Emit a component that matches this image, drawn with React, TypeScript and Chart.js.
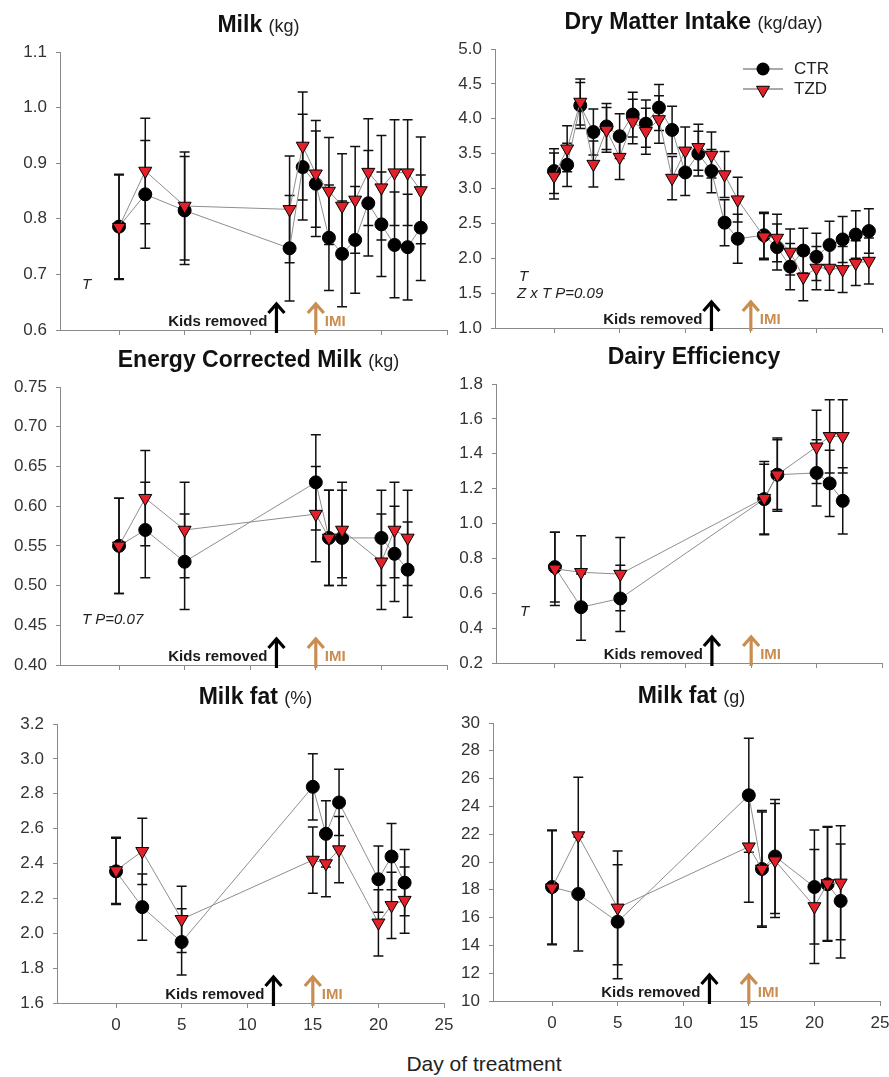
import React, { useEffect, useRef } from "react";
import { Chart, registerables } from "chart.js";
Chart.register(...registerables);

const FONT = '"Liberation Sans", Arial, Helvetica, sans-serif';

// ---------- shared axis ticks ----------
const xTicks = [0, 5, 10, 15, 20, 25];
const kidsRemovedDay = 12;
const imiDay = 15;

// ---------- Milk (kg) ----------
const milkDays = [0, 2, 5, 13, 14, 15, 16, 17, 18, 19, 20, 21, 22, 23];
const milkCTR = [0.786, 0.844, 0.815, 0.747, 0.893, 0.863, 0.766, 0.737, 0.762, 0.828, 0.790, 0.753, 0.749, 0.784];
const milkCTRse = [0.094, 0.097, 0.097, 0.095, 0.095, 0.095, 0.095, 0.095, 0.096, 0.095, 0.094, 0.095, 0.095, 0.095];
const milkTZD = [0.785, 0.886, 0.823, 0.817, 0.931, 0.881, 0.850, 0.823, 0.834, 0.884, 0.856, 0.883, 0.883, 0.851];
const milkTZDse = [0.094, 0.095, 0.097, 0.096, 0.097, 0.096, 0.096, 0.094, 0.096, 0.096, 0.094, 0.095, 0.095, 0.096];
const milkYTicks = [0.6, 0.7, 0.8, 0.9, 1.0, 1.1];

// ---------- Dry Matter Intake (kg/day) ----------
const dmiDays = [0, 1, 2, 3, 4, 5, 6, 7, 8, 9, 10, 11, 12, 13, 14, 16, 17, 18, 19, 20, 21, 22, 23, 24];
const dmiCTR = [3.25, 3.34, 4.19, 3.81, 3.89, 3.75, 4.06, 3.93, 4.16, 3.84, 3.23, 3.50, 3.25, 2.51, 2.28, 2.33, 2.16, 1.88, 2.11, 2.02, 2.19, 2.27, 2.34, 2.39];
const dmiCTRse = [0.32, 0.31, 0.33, 0.33, 0.33, 0.32, 0.32, 0.34, 0.33, 0.34, 0.33, 0.32, 0.31, 0.33, 0.35, 0.33, 0.33, 0.33, 0.32, 0.34, 0.34, 0.33, 0.34, 0.32];
const dmiTZD = [3.18, 3.57, 4.24, 3.35, 3.84, 3.45, 3.96, 3.82, 3.99, 3.15, 3.54, 3.59, 3.48, 3.20, 2.84, 2.31, 2.29, 2.09, 1.73, 1.86, 1.86, 1.84, 1.93, 1.96];
const dmiTZDse = [0.33, 0.33, 0.33, 0.33, 0.32, 0.32, 0.32, 0.33, 0.34, 0.31, 0.34, 0.33, 0.33, 0.33, 0.32, 0.33, 0.34, 0.33, 0.34, 0.31, 0.32, 0.33, 0.32, 0.33];
const dmiYTicks = [1.0, 1.5, 2.0, 2.5, 3.0, 3.5, 4.0, 4.5, 5.0];

// ---------- Energy Corrected Milk (kg) ----------
const ecmDays = [0, 2, 5, 15, 16, 17, 20, 21, 22];
const ecmCTR = [0.55, 0.57, 0.53, 0.63, 0.56, 0.56, 0.56, 0.54, 0.52];
const ecmCTRse = [0.06, 0.06, 0.06, 0.06, 0.06, 0.06, 0.06, 0.06, 0.06];
const ecmTZD = [0.55, 0.61, 0.57, 0.59, 0.56, 0.57, 0.53, 0.57, 0.56];
const ecmTZDse = [0.06, 0.06, 0.06, 0.06, 0.06, 0.06, 0.06, 0.06, 0.06];
const ecmYTicks = [0.40, 0.45, 0.50, 0.55, 0.60, 0.65, 0.70, 0.75];

// ---------- Dairy Efficiency ----------
const deDays = [0, 2, 5, 16, 17, 20, 21, 22];
const deCTR = [0.75, 0.52, 0.57, 1.14, 1.28, 1.29, 1.23, 1.13];
const deCTRse = [0.20, 0.19, 0.19, 0.20, 0.20, 0.19, 0.19, 0.19];
const deTZD = [0.74, 0.72, 0.71, 1.145, 1.28, 1.44, 1.50, 1.50];
const deTZDse = [0.21, 0.21, 0.21, 0.21, 0.21, 0.21, 0.21, 0.21];
const deYTicks = [0.2, 0.4, 0.6, 0.8, 1.0, 1.2, 1.4, 1.6, 1.8];

// ---------- Milk fat (%) ----------
const fatPctDays = [0, 2, 5, 15, 16, 17, 20, 21, 22];
const fatPctCTR = [2.355, 2.15, 1.95, 2.84, 2.57, 2.75, 2.31, 2.44, 2.29];
const fatPctCTRse = [0.19, 0.19, 0.19, 0.19, 0.19, 0.19, 0.19, 0.19, 0.19];
const fatPctTZD = [2.36, 2.47, 2.08, 2.42, 2.40, 2.48, 2.06, 2.16, 2.19];
const fatPctTZDse = [0.19, 0.19, 0.19, 0.19, 0.19, 0.19, 0.19, 0.19, 0.19];
const fatPctYTicks = [1.6, 1.8, 2.0, 2.2, 2.4, 2.6, 2.8, 3.0, 3.2];

// ---------- Milk fat (g) ----------
const fatGDays = [0, 2, 5, 15, 16, 17, 20, 21, 22];
const fatGCTR = [18.2, 17.7, 15.7, 24.8, 19.5, 20.4, 18.2, 18.4, 17.2];
const fatGCTRse = [4.1, 4.1, 4.1, 4.1, 4.2, 4.1, 4.1, 4.1, 4.1];
const fatGTZD = [18.15, 21.9, 16.7, 21.1, 19.5, 20.1, 16.8, 18.45, 18.5];
const fatGTZDse = [4.1, 4.2, 4.1, 4.0, 4.1, 4.1, 4.1, 4.1, 4.1];
const fatGYTicks = [10, 12, 14, 16, 18, 20, 22, 24, 26, 28, 30];

type Note = { text: string; dx: number; dyFromBottom: number };
type Panel = {
  key: string;
  title: string;
  unit: string;
  left: number;
  top: number;
  right: number;
  bottom: number;
  yTicks: number[];
  dec: number;
  showXLabels: boolean;
  days: number[];
  ctr: number[];
  ctrSe: number[];
  tzd: number[];
  tzdSe: number[];
  notes: Note[];
  legend?: boolean;
};

const panels: Panel[] = [
  {
    key: "milk", title: "Milk", unit: "(kg)",
    left: 60, top: 52, right: 447, bottom: 330,
    yTicks: milkYTicks, dec: 1, showXLabels: false,
    days: milkDays, ctr: milkCTR, ctrSe: milkCTRse, tzd: milkTZD, tzdSe: milkTZDse,
    notes: [{ text: "T", dx: 22, dyFromBottom: 41 }],
  },
  {
    key: "dmi", title: "Dry Matter Intake", unit: "(kg/day)",
    left: 495, top: 49, right: 882, bottom: 328,
    yTicks: dmiYTicks, dec: 1, showXLabels: false,
    days: dmiDays, ctr: dmiCTR, ctrSe: dmiCTRse, tzd: dmiTZD, tzdSe: dmiTZDse,
    notes: [
      { text: "T", dx: 24, dyFromBottom: 47 },
      { text: "Z x T P=0.09", dx: 22, dyFromBottom: 30 },
    ],
    legend: true,
  },
  {
    key: "ecm", title: "Energy Corrected Milk", unit: "(kg)",
    left: 60, top: 387, right: 447, bottom: 665,
    yTicks: ecmYTicks, dec: 2, showXLabels: false,
    days: ecmDays, ctr: ecmCTR, ctrSe: ecmCTRse, tzd: ecmTZD, tzdSe: ecmTZDse,
    notes: [{ text: "T P=0.07", dx: 22, dyFromBottom: 41 }],
  },
  {
    key: "de", title: "Dairy Efficiency", unit: "",
    left: 496, top: 384, right: 882, bottom: 663,
    yTicks: deYTicks, dec: 1, showXLabels: false,
    days: deDays, ctr: deCTR, ctrSe: deCTRse, tzd: deTZD, tzdSe: deTZDse,
    notes: [{ text: "T", dx: 24, dyFromBottom: 47 }],
  },
  {
    key: "fatpct", title: "Milk fat", unit: "(%)",
    left: 57, top: 724, right: 444, bottom: 1003,
    yTicks: fatPctYTicks, dec: 1, showXLabels: true,
    days: fatPctDays, ctr: fatPctCTR, ctrSe: fatPctCTRse, tzd: fatPctTZD, tzdSe: fatPctTZDse,
    notes: [],
  },
  {
    key: "fatg", title: "Milk fat", unit: "(g)",
    left: 493, top: 723, right: 880, bottom: 1001,
    yTicks: fatGYTicks, dec: 0, showXLabels: true,
    days: fatGDays, ctr: fatGCTR, ctrSe: fatGCTRse, tzd: fatGTZD, tzdSe: fatGTZDse,
    notes: [],
  },
];

const RED = "#e4202a";
const LINE_GRAY = "#8e8e8e";
const AXIS_GRAY = "#8a8a8a";
const IMI_COLOR = "#c98d4f";

function drawArrow(ctx: CanvasRenderingContext2D, x: number, yBase: number, color: string) {
  ctx.save();
  ctx.strokeStyle = color;
  ctx.lineWidth = 3.2;
  ctx.lineCap = "butt";
  ctx.lineJoin = "miter";
  ctx.beginPath();
  ctx.moveTo(x, yBase + 3);
  ctx.lineTo(x, yBase - 25);
  ctx.stroke();
  ctx.beginPath();
  ctx.moveTo(x - 8, yBase - 17);
  ctx.lineTo(x, yBase - 26);
  ctx.lineTo(x + 8, yBase - 17);
  ctx.stroke();
  ctx.restore();
}

function makePlugin(p: Panel) {
  return {
    id: "panelDeco_" + p.key,
    beforeDatasetsDraw(chart: any) {
      const ctx: CanvasRenderingContext2D = chart.ctx;
      const xs = chart.scales.x;
      const ys = chart.scales.y;
      ctx.save();
      ctx.strokeStyle = "#111";
      ctx.lineWidth = 1.5;
      const series: [number[], number[]][] = [
        [p.ctr, p.ctrSe],
        [p.tzd, p.tzdSe],
      ];
      for (const [vals, ses] of series) {
        p.days.forEach((d, i) => {
          const x = xs.getPixelForValue(d);
          const y1 = ys.getPixelForValue(vals[i] + ses[i]);
          const y2 = ys.getPixelForValue(vals[i] - ses[i]);
          ctx.beginPath();
          ctx.moveTo(x, y1);
          ctx.lineTo(x, y2);
          ctx.moveTo(x - 5, y1);
          ctx.lineTo(x + 5, y1);
          ctx.moveTo(x - 5, y2);
          ctx.lineTo(x + 5, y2);
          ctx.stroke();
        });
      }
      ctx.restore();
    },
    afterDatasetsDraw(chart: any) {
      const ctx: CanvasRenderingContext2D = chart.ctx;
      const area = chart.chartArea;
      const xs = chart.scales.x;
      ctx.save();

      // title
      const cx = (area.left + area.right) / 2 + 5;
      const ty = area.top - 20;
      ctx.textBaseline = "alphabetic";
      ctx.fillStyle = "#111";
      const boldFont = `bold 23px ${FONT}`;
      const unitFont = `18px ${FONT}`;
      ctx.font = boldFont;
      const tw = ctx.measureText(p.title).width;
      const sw = p.unit ? ctx.measureText(" ").width : 0;
      ctx.font = unitFont;
      const uw = p.unit ? ctx.measureText(p.unit).width : 0;
      const total = tw + sw + uw;
      const x0 = cx - total / 2;
      ctx.textAlign = "left";
      ctx.font = boldFont;
      ctx.fillText(p.title, x0, ty);
      if (p.unit) {
        ctx.font = unitFont;
        ctx.fillStyle = "#222";
        ctx.fillText(p.unit, x0 + tw + sw, ty);
      }

      // notes (italic)
      ctx.font = `italic 15px ${FONT}`;
      ctx.fillStyle = "#222";
      ctx.textAlign = "left";
      for (const n of p.notes) {
        ctx.fillText(n.text, area.left + n.dx, area.bottom - n.dyFromBottom);
      }

      // arrows and labels
      const kx = xs.getPixelForValue(kidsRemovedDay);
      const ix = xs.getPixelForValue(imiDay);
      drawArrow(ctx, kx, area.bottom, "#000");
      drawArrow(ctx, ix, area.bottom, IMI_COLOR);
      ctx.font = `bold 15px ${FONT}`;
      ctx.fillStyle = "#1a1a1a";
      ctx.textAlign = "right";
      ctx.fillText("Kids removed", kx - 9, area.bottom - 4);
      ctx.fillStyle = IMI_COLOR;
      ctx.textAlign = "left";
      ctx.fillText("IMI", ix + 9, area.bottom - 4);

      // legend
      if (p.legend) {
        const lx1 = area.right - 139;
        const lx2 = area.right - 99;
        const mx = (lx1 + lx2) / 2;
        const yA = area.top + 20;
        const yB = area.top + 40;
        ctx.strokeStyle = "#555";
        ctx.lineWidth = 1;
        ctx.beginPath();
        ctx.moveTo(lx1, yA);
        ctx.lineTo(lx2, yA);
        ctx.moveTo(lx1, yB);
        ctx.lineTo(lx2, yB);
        ctx.stroke();
        ctx.fillStyle = "#000";
        ctx.beginPath();
        ctx.arc(mx, yA, 6.5, 0, Math.PI * 2);
        ctx.fill();
        const r = 7.5;
        const cyT = yB + 1;
        ctx.beginPath();
        ctx.moveTo(mx, cyT + r);
        ctx.lineTo(mx - r * Math.sin(Math.PI / 3), cyT - r / 2);
        ctx.lineTo(mx + r * Math.sin(Math.PI / 3), cyT - r / 2);
        ctx.closePath();
        ctx.fillStyle = RED;
        ctx.fill();
        ctx.strokeStyle = "#000";
        ctx.stroke();
        ctx.font = `17px ${FONT}`;
        ctx.fillStyle = "#222";
        ctx.textAlign = "left";
        ctx.textBaseline = "middle";
        ctx.fillText("CTR", area.right - 88, yA);
        ctx.fillText("TZD", area.right - 88, yB);
      }
      ctx.restore();
    },
  };
}

function PanelChart({ p }: { p: Panel }) {
  const ref = useRef<HTMLCanvasElement>(null);
  const cx = p.left - 57;
  const cy = p.top - 52;
  const bottomSpace = p.showXLabels ? 45 : 12;
  const w = p.right + 15 - cx;
  const h = p.bottom + bottomSpace - cy;

  useEffect(() => {
    const canvas = ref.current;
    if (!canvas) return;
    const chart = new Chart(canvas, {
      type: "line",
      data: {
        datasets: [
          {
            label: "CTR",
            data: p.days.map((d, i) => ({ x: d, y: p.ctr[i] })),
            borderColor: LINE_GRAY,
            borderWidth: 1,
            fill: false,
            tension: 0,
            pointStyle: "circle",
            pointRadius: 6.5,
            pointBackgroundColor: "#000",
            pointBorderColor: "#000",
            pointBorderWidth: 1,
            order: 2,
          },
          {
            label: "TZD",
            data: p.days.map((d, i) => ({ x: d, y: p.tzd[i] })),
            borderColor: LINE_GRAY,
            borderWidth: 1,
            fill: false,
            tension: 0,
            pointStyle: "triangle",
            pointRotation: 180,
            pointRadius: 7.5,
            pointBackgroundColor: RED,
            pointBorderColor: "#000",
            pointBorderWidth: 1,
            order: 1,
          },
        ],
      },
      options: {
        responsive: false,
        animation: false,
        events: [],
        layout: { padding: { top: 52, right: 15, left: 0, bottom: 0 } },
        plugins: {
          legend: { display: false },
          tooltip: { enabled: false },
          title: { display: false },
        },
        scales: {
          x: {
            type: "linear",
            min: -4.5,
            max: 25,
            afterBuildTicks: (s: any) => {
              s.ticks = xTicks.map((v) => ({ value: v }));
            },
            afterFit: (s: any) => {
              s.height = bottomSpace;
              s.paddingLeft = 0;
              s.paddingRight = 0;
            },
            grid: { drawOnChartArea: false, drawTicks: true, tickLength: 5, color: AXIS_GRAY, lineWidth: 1 },
            border: { display: true, color: AXIS_GRAY, width: 1 },
            ticks: {
              display: p.showXLabels,
              padding: 7,
              color: "#333",
              font: { family: FONT, size: 17 },
              maxRotation: 0,
              autoSkip: false,
              callback: (v: any) => String(v),
            },
          },
          y: {
            type: "linear",
            min: p.yTicks[0],
            max: p.yTicks[p.yTicks.length - 1],
            afterBuildTicks: (s: any) => {
              s.ticks = p.yTicks.map((v) => ({ value: v }));
            },
            afterFit: (s: any) => {
              s.width = 57;
              s.paddingTop = 0;
              s.paddingBottom = 0;
            },
            grid: { drawOnChartArea: false, drawTicks: true, tickLength: 4, color: AXIS_GRAY, lineWidth: 1 },
            border: { display: true, color: AXIS_GRAY, width: 1 },
            ticks: {
              padding: 9,
              color: "#333",
              font: { family: FONT, size: 17 },
              autoSkip: false,
              callback: (v: any) => Number(v).toFixed(p.dec),
            },
          },
        },
      } as any,
      plugins: [makePlugin(p) as any],
    });
    return () => chart.destroy();
  }, []);

  return (
    <canvas
      ref={ref}
      width={w}
      height={h}
      style={{ position: "absolute", left: cx, top: cy, width: w, height: h }}
    />
  );
}

export default function App() {
  return (
    <div
      style={{
        position: "absolute",
        left: 0,
        top: 0,
        width: 889,
        height: 1077,
        background: "#fff",
        overflow: "hidden",
      }}
    >
      {panels.map((p) => (
        <PanelChart key={p.key} p={p} />
      ))}
      <div
        style={{
          position: "absolute",
          left: 334,
          top: 1053,
          width: 300,
          textAlign: "center",
          fontFamily: FONT,
          fontSize: 21,
          lineHeight: "21px",
          color: "#222",
        }}
      >
        Day of treatment
      </div>
    </div>
  );
}
